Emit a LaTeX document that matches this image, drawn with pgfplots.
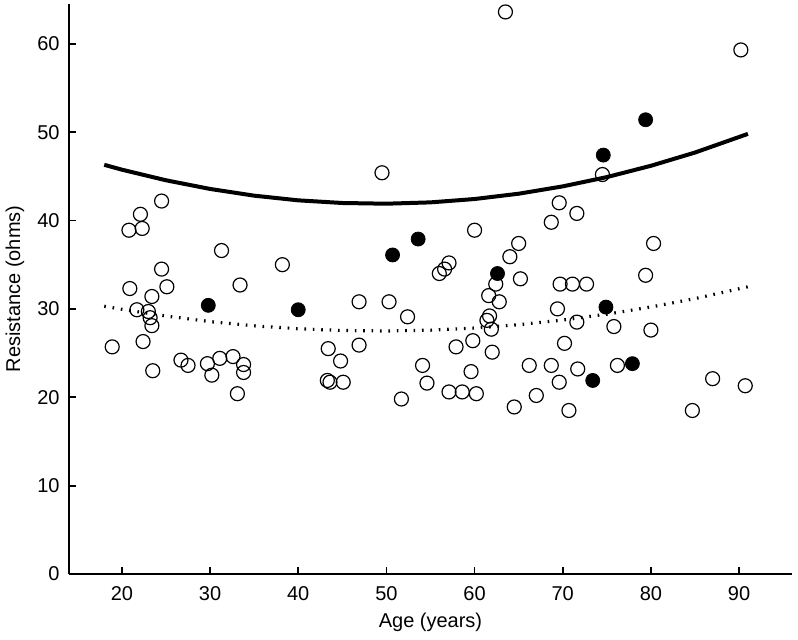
\documentclass[border=0pt]{standalone}
\usepackage{fontspec}
\setmainfont{Liberation Sans}
\usepackage{pgfplots}
\pgfplotsset{compat=1.18}

% open circles
\pgfplotstableread{
x y
24.5 42.2
22.1 40.7
20.8 38.9
22.3 39.1
31.3 36.6
24.5 34.5
20.9 32.3
25.1 32.5
33.4 32.7
23.4 31.4
21.7 29.9
23.0 29.7
23.2 29.0
23.4 28.1
18.9 25.7
22.4 26.3
23.5 23.0
26.7 24.2
27.5 23.6
29.7 23.8
30.2 22.5
31.1 24.4
32.6 24.6
33.8 23.7
33.8 22.8
33.1 20.4
38.2 35.0
46.9 30.8
50.3 30.8
60.0 38.9
52.4 29.1
43.4 25.5
44.8 24.1
46.9 25.9
43.3 21.9
43.6 21.7
45.1 21.7
51.7 19.8
54.1 23.6
54.6 21.6
56.0 34.0
56.6 34.5
57.1 35.2
57.9 25.7
59.8 26.4
59.6 22.9
57.1 20.6
58.6 20.6
60.2 20.4
64.5 18.9
65.0 37.4
64.0 35.9
62.4 32.8
65.2 33.4
61.6 31.5
62.8 30.8
61.7 29.2
61.4 28.7
61.9 27.7
62.0 25.1
66.2 23.6
49.5 45.4
63.5 63.6
90.2 59.3
74.5 45.2
69.6 42.0
71.6 40.8
68.7 39.8
80.3 37.4
79.4 33.8
69.7 32.8
71.1 32.8
72.7 32.8
69.4 30.0
71.6 28.5
75.8 28.0
80.0 27.6
70.2 26.1
68.7 23.6
71.7 23.2
76.2 23.6
69.6 21.7
67.0 20.2
70.7 18.5
84.7 18.5
87.0 22.1
90.7 21.3
}\opendata

% filled circles
\pgfplotstableread{
x y
29.8 30.4
40.0 29.9
50.7 36.1
53.6 37.9
62.6 34.0
74.6 47.4
79.4 51.4
74.9 30.2
77.9 23.8
73.4 21.9
}\filleddata

% fitted curves
\pgfplotstableread{
x upper lower
18 46.30 30.30
20 45.75 29.95
25 44.55 29.19
30 43.57 28.56
35 42.81 28.08
40 42.28 27.75
45 41.98 27.55
50 41.90 27.50
55 42.05 27.59
60 42.43 27.83
65 43.03 28.21
70 43.86 28.73
75 44.91 29.40
80 46.19 30.21
85 47.69 31.16
91 49.80 32.50
}\curves

\begin{document}
\begin{tikzpicture}
\useasboundingbox (0,0) rectangle (399pt,320pt);
\begin{axis}[
  at={(34.5pt,33pt)}, anchor=south west,
  scale only axis, width=361.5pt, height=285pt,
  xmin=14, xmax=96, ymin=0, ymax=64.5,
  xtick={20,30,...,90}, ytick={0,10,...,60},
  axis x line*=bottom, axis y line*=left,
  axis line style={-, line width=0.9pt},
  tick align=inside, major tick length=3.5pt,
  tick style={line width=0.9pt, black},
  /pgf/number format/assume math mode=true,
  tick label style={font=\fontsize{10}{12}\selectfont},
  xticklabel style={yshift=-2.5pt},
  yticklabel style={xshift=-1.2pt},
  label style={font=\fontsize{10}{12}\selectfont},
  xlabel={Age (years)}, ylabel={Resistance (ohms)},
  every axis x label/.style={at={(axis description cs:0.5,0)}, yshift=-24pt, anchor=center},
  every axis y label/.style={at={(axis description cs:0,0.5)}, xshift=-27pt, rotate=90, anchor=center},
  clip=false,
]
\addplot[black, line width=2pt] table[x=x, y=upper] {\curves};
\addplot[black, line width=1.6pt, dash pattern=on 0.8pt off 3.4pt] table[x=x, y=lower] {\curves};
\addplot[only marks, mark=o, mark size=3.5pt, mark options={black, line width=0.6pt, fill=white}] table {\opendata};
\addplot[only marks, mark=*, mark size=3.5pt, mark options={black, fill=black}] table {\filleddata};
\end{axis}
\end{tikzpicture}
\end{document}
